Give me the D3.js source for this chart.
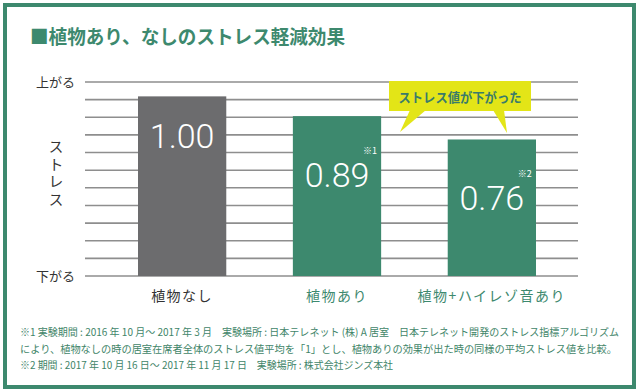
<!DOCTYPE html>
<html><head><meta charset="utf-8">
<script src="https://cdn.jsdelivr.net/npm/d3@7"></script>
<style>
html,body{margin:0;padding:0;background:#fff;}
svg{display:block;font-family:"Noto Sans CJK JP","Noto Sans",sans-serif;}
</style></head>
<body>
<script>
const categories = ["植物なし", "植物あり", "植物+ハイレゾ音あり"];
const values = [1.00, 0.89, 0.76];
const valueLabels = ["1.00", "0.89", "0.76"];
const noteMarks = ["", "※1", "※2"];
const yTopLabel = "上がる";
const yBottomLabel = "下がる";
const yAxisTitle = "ストレス";
const title = "■植物あり、なしのストレス軽減効果";
const callout = "ストレス値が下がった";
const footnotes = [
  "※1 実験期間 : 2016 年 10 月〜 2017 年 3 月　実験場所 : 日本テレネット (株) A 居室　日本テレネット開発のストレス指標アルゴリズム",
  "により、植物なしの時の居室在席者全体のストレス値平均を「1」とし、植物ありの効果が出た時の同様の平均ストレス値を比較。",
  "※2 期間 : 2017 年 10 月 16 日〜 2017 年 11 月 17 日　実験場所 : 株式会社ジンズ本社"
];
const gridCount = 11;

const W = 640, H = 392;
const green = "#3d896e", gray = "#6c6c6e";
const svg = d3.select("body").append("svg").attr("width", W).attr("height", H);

svg.append("rect").attr("width", W).attr("height", H).attr("fill", "#fff");
svg.append("rect").attr("x", 5).attr("y", 5).attr("width", 629).attr("height", 382)
  .attr("fill", "none").attr("stroke", green).attr("stroke-width", 4);

svg.append("text").attr("x", 30).attr("y", 44).attr("fill", green)
  .attr("font-size", 19).attr("font-weight", 700).attr("textLength", 315)
  .attr("lengthAdjust", "spacingAndGlyphs").text(title);

const y0 = 276, y1 = 82;
const yMax = 1.08;
const y = d3.scaleLinear().domain([0, yMax]).range([y0, y1]);
const grid = d3.scaleLinear().domain([0, gridCount]).range([y0, y1]);
const x = d3.scaleBand().domain(categories).range([138, 536]).paddingInner(0.43).paddingOuter(0);

svg.append("g").selectAll("line").data(d3.range(gridCount + 1)).join("line")
  .attr("x1", 85).attr("x2", 578)
  .attr("y1", d => grid(d)).attr("y2", d => grid(d))
  .attr("stroke", "#8e8e8e").attr("stroke-width", 1.6);

svg.append("text").attr("x", 75).attr("y", grid(gridCount) + 4.5).attr("text-anchor", "end")
  .attr("font-size", 13).attr("fill", "#333").text(yTopLabel);
svg.append("text").attr("x", 75).attr("y", grid(0) + 4.5).attr("text-anchor", "end")
  .attr("font-size", 13).attr("fill", "#333").text(yBottomLabel);
svg.append("text").attr("x", 56).attr("y", 174)
  .attr("writing-mode", "vertical-rl").attr("text-anchor", "middle")
  .attr("letter-spacing", 2.5)
  .attr("font-size", 15).attr("fill", "#333").text(yAxisTitle);

const bars = svg.append("g").selectAll("g").data(categories).join("g");
bars.append("rect")
  .attr("x", d => x(d)).attr("width", x.bandwidth())
  .attr("y", (d, i) => y(values[i])).attr("height", (d, i) => y0 - y(values[i]))
  .attr("fill", (d, i) => i === 0 ? gray : green);
bars.append("text")
  .attr("x", d => x(d) + x.bandwidth() / 2)
  .attr("y", (d, i) => y(values[i]) + (noteMarks[i] ? 71 : 52))
  .attr("text-anchor", "middle").attr("fill", "#fff")
  .attr("font-family", "Roboto, sans-serif").attr("font-weight", 300).attr("font-size", 34)
  .text((d, i) => valueLabels[i]);
bars.append("text")
  .attr("x", d => x(d) + x.bandwidth() / 2 + 26)
  .attr("y", (d, i) => y(values[i]) + 37.5)
  .attr("text-anchor", "start").attr("fill", "#fff").attr("font-size", 9)
  .text((d, i) => noteMarks[i]);
bars.append("text")
  .attr("x", d => x(d) + x.bandwidth() / 2).attr("y", 301)
  .attr("text-anchor", "middle").attr("font-size", 14).attr("letter-spacing", 1.5)
  .attr("fill", (d, i) => i === 0 ? "#333" : green)
  .text(d => d);

// callout
const cg = svg.append("g");
const yellow = "#e3e517";
cg.append("path").attr("d", "M410,110 L400,132 L426,110 Z").attr("fill", yellow);
cg.append("path").attr("d", "M493,110 L507,133 L504,110 Z").attr("fill", yellow);
cg.append("rect").attr("x", 389).attr("y", 81).attr("width", 142).attr("height", 30).attr("fill", yellow);
cg.append("text").attr("x", 460).attr("y", 101.5).attr("text-anchor", "middle")
  .attr("font-size", 13).attr("font-weight", 700).attr("fill", "#3a7b6a")
  .attr("textLength", 123).attr("lengthAdjust", "spacingAndGlyphs").text(callout);

const fnWidths = [599, 597, 373];
svg.append("g").selectAll("text").data(footnotes).join("text")
  .attr("x", 20).attr("y", (d, i) => 336 + i * 16.5)
  .attr("font-size", 10.3).attr("fill", "#3f8569")
  .attr("textLength", (d, i) => fnWidths[i]).attr("lengthAdjust", "spacingAndGlyphs")
  .text(d => d);
</script>
</body></html>
